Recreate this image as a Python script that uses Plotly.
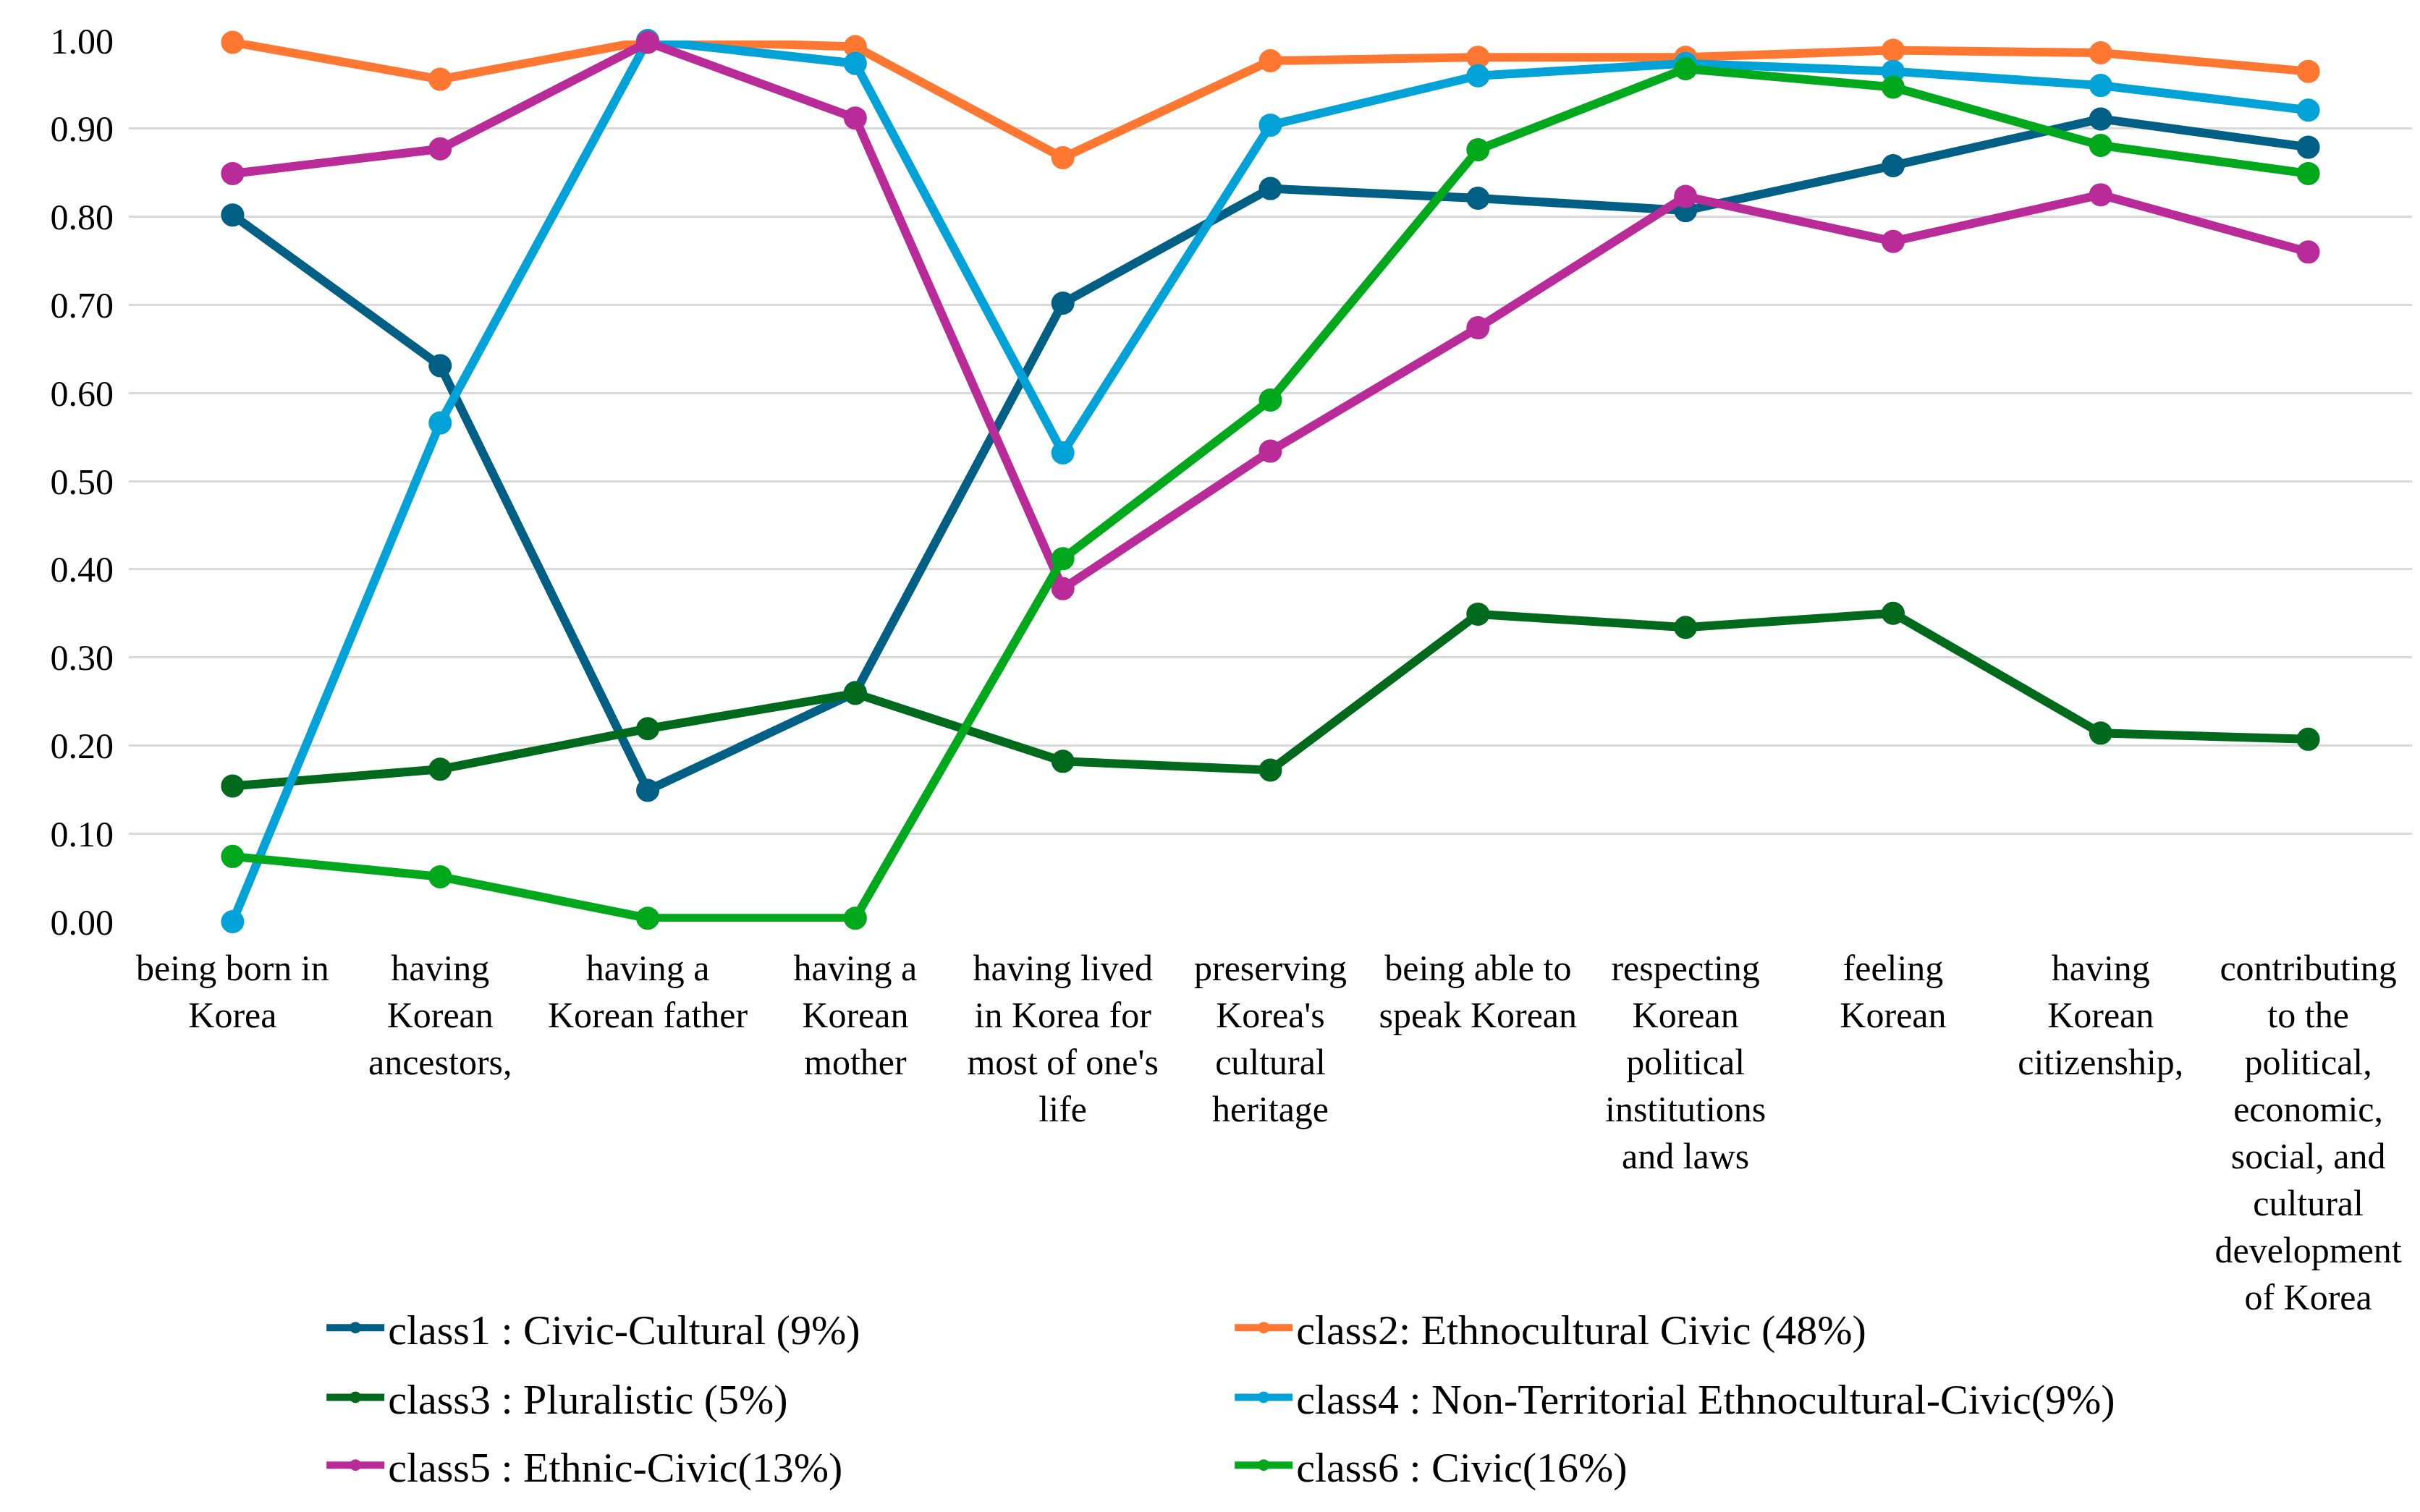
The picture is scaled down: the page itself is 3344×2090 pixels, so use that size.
import plotly.graph_objects as go

categories = [
    "being born in<br>Korea",
    "having<br>Korean<br>ancestors,",
    "having a<br>Korean father",
    "having a<br>Korean<br>mother",
    "having lived<br>in Korea for<br>most of one's<br>life",
    "preserving<br>Korea's<br>cultural<br>heritage",
    "being able to<br>speak Korean",
    "respecting<br>Korean<br>political<br>institutions<br>and laws",
    "feeling<br>Korean",
    "having<br>Korean<br>citizenship,",
    "contributing<br>to the<br>political,<br>economic,<br>social, and<br>cultural<br>development<br>of Korea",
]

class1 = [0.802, 0.631, 0.149, 0.260, 0.702, 0.832, 0.821, 0.807, 0.858, 0.911, 0.879]
class2 = [0.998, 0.956, 1.000, 0.993, 0.867, 0.977, 0.981, 0.981, 0.989, 0.986, 0.965]
class3 = [0.154, 0.173, 0.219, 0.259, 0.182, 0.172, 0.349, 0.334, 0.350, 0.214, 0.207]
class4 = [0.000, 0.566, 1.000, 0.974, 0.532, 0.904, 0.960, 0.974, 0.965, 0.949, 0.921]
class5 = [0.849, 0.877, 0.998, 0.912, 0.378, 0.534, 0.674, 0.823, 0.772, 0.825, 0.760]
class6 = [0.074, 0.051, 0.004, 0.004, 0.412, 0.592, 0.876, 0.968, 0.947, 0.881, 0.849]

names = [
    "class1 : Civic-Cultural (9%)",
    "class2: Ethnocultural Civic (48%)",
    "class3 : Pluralistic (5%)",
    "class4 : Non-Territorial Ethnocultural-Civic(9%)",
    "class5 : Ethnic-Civic(13%)",
    "class6 : Civic(16%)",
]
series = [class1, class2, class3, class4, class5, class6]
colors = ["#005F85", "#FF7730", "#006A1C", "#00A2D8", "#B82B98", "#00A81C"]
legend_ids = ["legend", "legend", "legend2", "legend2", "legend3", "legend3"]

FONT = "Liberation Serif, Times New Roman, serif"

fig = go.Figure()
for name, vals, col, lg in zip(names, series, colors, legend_ids):
    fig.add_trace(go.Scatter(
        x=list(range(len(categories))), y=vals, name=name, mode="lines+markers",
        line=dict(color=col, width=12),
        marker=dict(color=col, size=32),
        cliponaxis=False, legend=lg,
    ))

leg_common = dict(orientation="h", xanchor="left", yanchor="middle", x=0.085,
                  font=dict(family=FONT, size=58, color="black"),
                  itemwidth=80, entrywidth=1160, bgcolor="rgba(0,0,0,0)",
                  tracegroupgap=0, itemclick=False)

fig.update_layout(
    width=3344, height=2090,
    margin=dict(l=170, r=19, t=48, b=824),
    paper_bgcolor="white", plot_bgcolor="white",
    font=dict(family=FONT, size=50, color="black"),
    showlegend=True,
    legend=dict(leg_common, y=-0.461),
    legend2=dict(leg_common, y=-0.540),
    legend3=dict(leg_common, y=-0.617),
    xaxis=dict(
        tickmode="array", tickvals=list(range(len(categories))), ticktext=categories,
        range=[-0.5, len(categories) - 0.5], showgrid=False, zeroline=False,
        showline=False, ticks="outside", ticklen=20, tickcolor="rgba(0,0,0,0)",
        tickfont=dict(family=FONT, size=50, color="black"), tickangle=0,
    ),
    yaxis=dict(
        range=[0, 1.0], dtick=0.1, tickformat=".2f", showgrid=True,
        gridcolor="#D9D9D9", gridwidth=3, zeroline=False, showline=False,
        tickfont=dict(family=FONT, size=50, color="black"),
        ticks="outside", ticklen=10, tickcolor="rgba(0,0,0,0)",
    ),
)

fig.write_html("out.html")
